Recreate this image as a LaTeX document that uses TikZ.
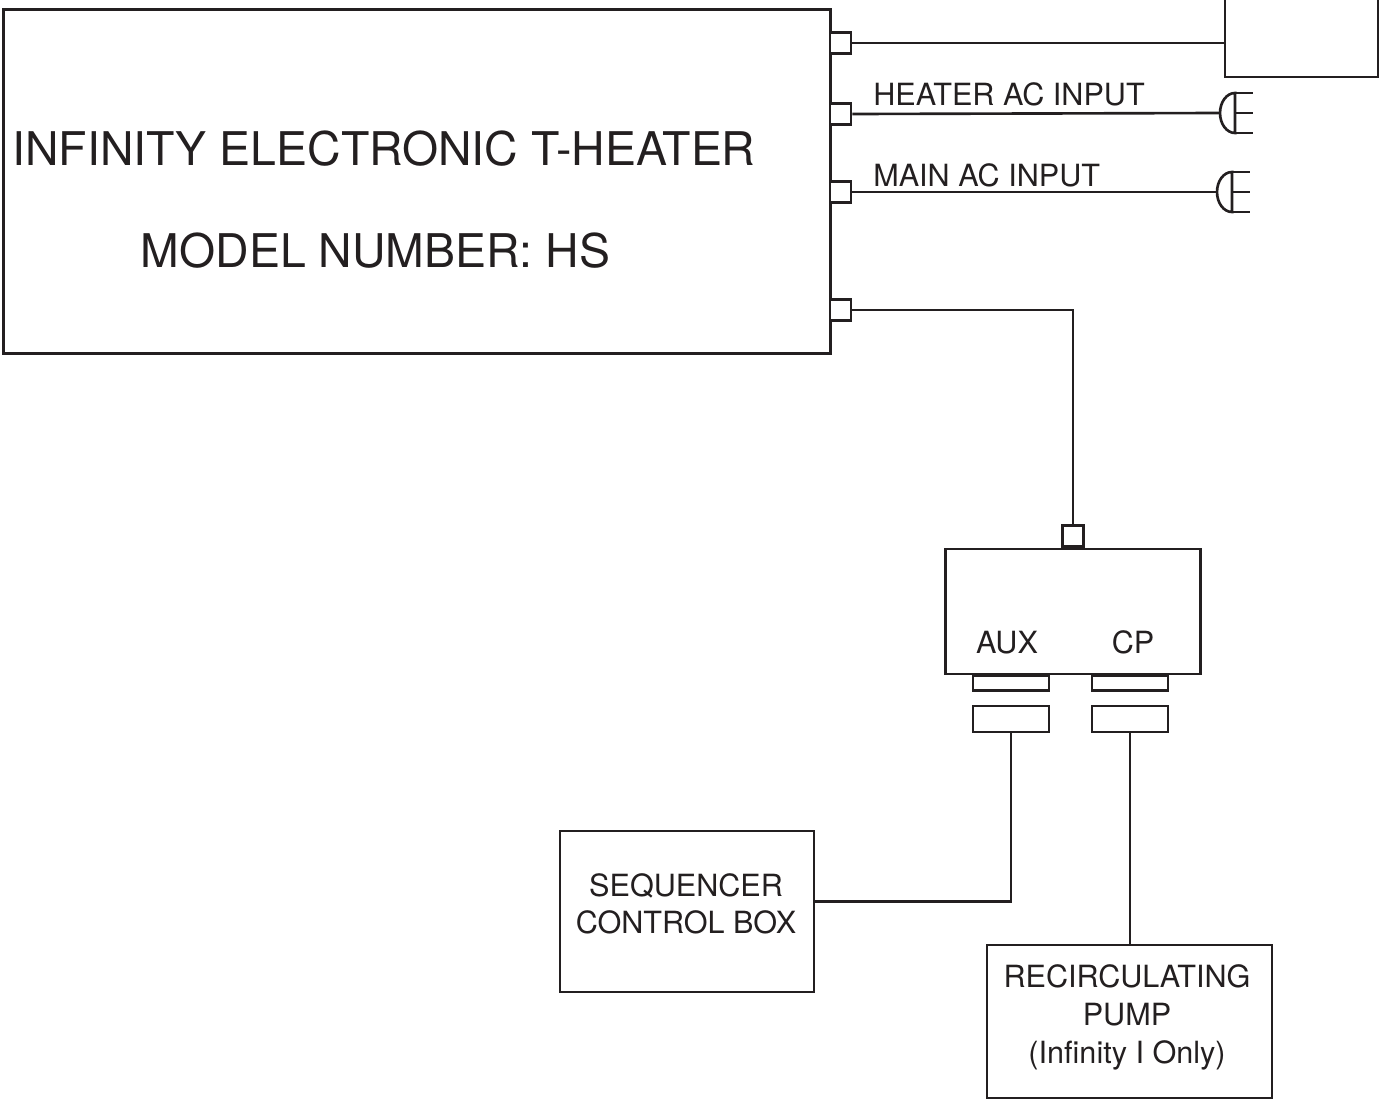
\documentclass[tikz,border=0pt]{standalone}
\usepackage{fontspec}
\setmainfont{TeX Gyre Heros}
\definecolor{ink}{RGB}{35,31,32}
\begin{document}
\begin{tikzpicture}[x=0.01cm,y=-0.01cm,line width=0.75pt,draw=ink,text=ink,
  box/.style={draw,inner sep=0pt},
  port/.style={draw,fill=white,inner sep=0pt,minimum width=0.21cm,minimum height=0.21cm},
  big/.style={font=\fontsize{13.2}{16}\selectfont},
  plug/.pic={\draw[ink] (0.15cm,0.2cm) arc[start angle=90,end angle=270,x radius=0.15cm,y radius=0.2cm] -- cycle;
    \draw[ink] (0.15cm,0.2cm) -- +(0.18cm,0cm) (0.15cm,0cm) -- +(0.18cm,0cm) (0.15cm,-0.2cm) -- +(0.18cm,0cm);}]
\useasboundingbox (0,0) rectangle (1383,1100);
\fontsize{8.7}{10.6}\selectfont
% heater unit
\node[box,line width=0.85pt,minimum width=8.26cm,minimum height=3.43cm] (heater) at (417,181.5) {};
\node[big,anchor=base] (title) at (384,165) {INFINITY ELECTRONIC T-HEATER};
\node[big,anchor=base] (model) at (375.5,267) {MODEL NUMBER: HS};
\foreach \n/\y in {pa/43,pb/114,pc/192,pd/310} \node[port] (\n) at (840.5,\y) {};
% remote box
\node[box,minimum width=1.53cm,minimum height=0.97cm] (remote) at (1301.5,28.5) {};
\draw (pa.east) -- (pa.east -| remote.west);
% ac inputs
\coordinate (hplug) at (1220,113);
\coordinate (mplug) at (1217,192);
\draw (pb.east) -- (hplug);
\draw (pc.east) -- (mplug);
\pic at (hplug) {plug};
\pic at (mplug) {plug};
\node[anchor=base west,inner sep=0pt] (hlbl) at (872,105) {HEATER AC INPUT};
\node[anchor=base west,inner sep=0pt] (mlbl) at (872,186) {MAIN AC INPUT};
% splitter
\node[box,minimum width=2.55cm,minimum height=1.25cm] (split) at (1073,611.5) {};
\node[port,anchor=south] (sin) at (split.north) {};
\draw (pd.east) -| (sin.north);
\node[anchor=base] (auxlbl) at (1007,653) {AUX};
\node[anchor=base] (cplbl) at (1133,653) {CP};
\foreach \n/\x in {aux/1011,cp/1130}{
  \node[box,anchor=north,minimum width=0.76cm,minimum height=0.15cm] (\n1) at (\x,674) {};
  \node[box,minimum width=0.76cm,minimum height=0.26cm] (\n2) at (\x,719) {};
}
% sequencer
\node[box,minimum width=2.54cm,minimum height=1.61cm] (seq) at (687,911.5) {};
\node[align=center,inner sep=0pt] (seqtxt) at (686,904) {SEQUENCER\\CONTROL BOX};
\draw (aux2.south) |- ([yshift=0.1cm]seq.east);
% pump
\node[box,minimum width=2.85cm,minimum height=1.53cm] (pump) at (1129.5,1021.5) {};
\node[align=center,inner sep=0pt,font=\fontsize{8.7}{10.8}\selectfont] (pumptxt) at (1127,1017) {RECIRCULATING\\PUMP\\(Infinity I Only)};
\draw (cp2.south) -- (cp2.south |- pump.north);
\end{tikzpicture}
\end{document}
